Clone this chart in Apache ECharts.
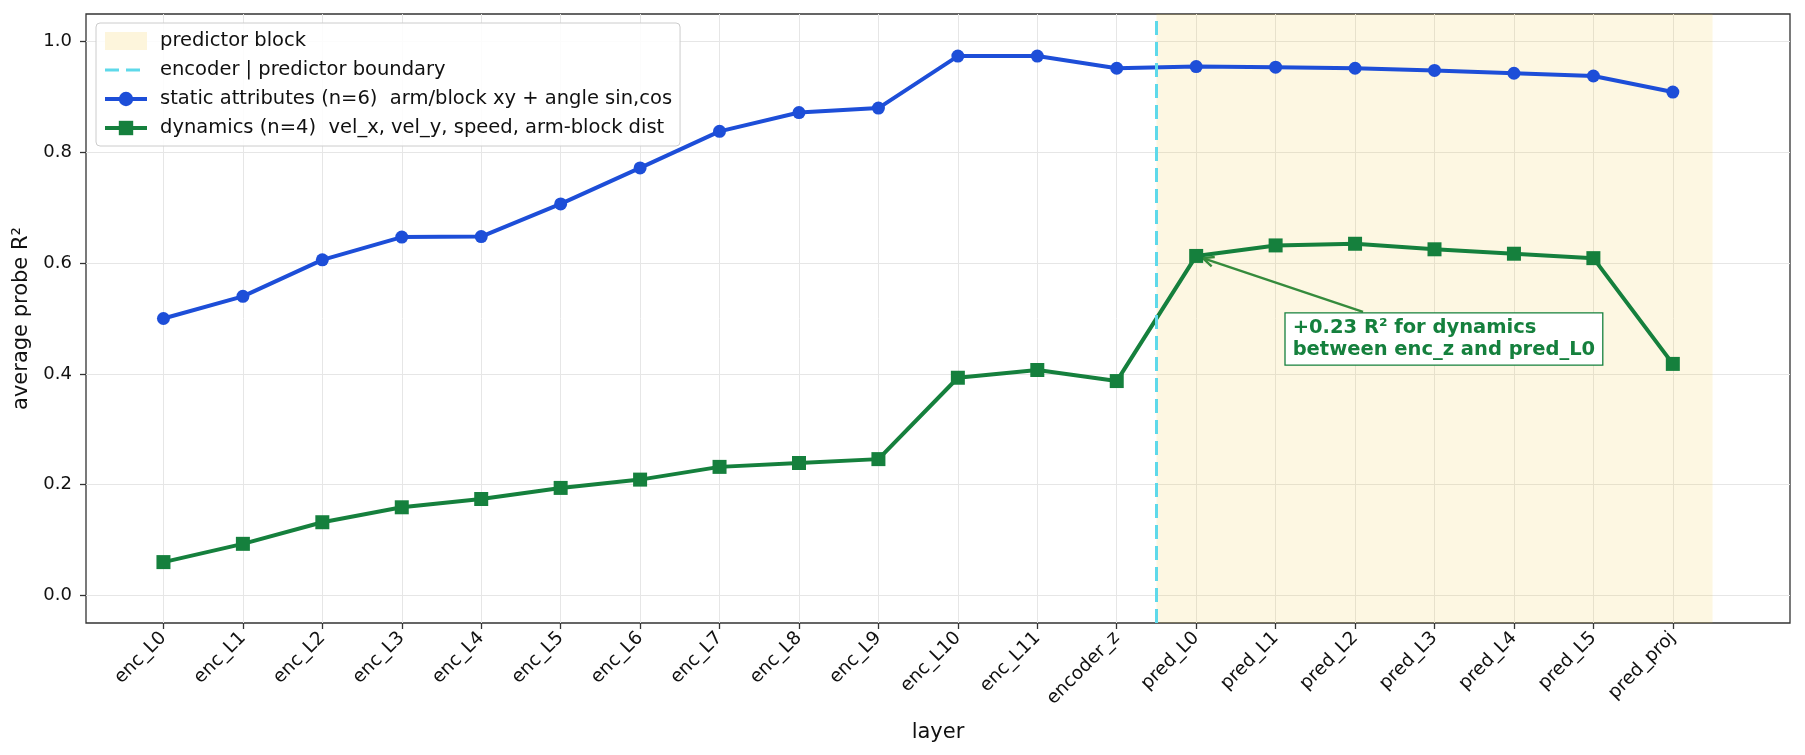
<!DOCTYPE html>
<html lang="en">
<head>
  <meta http-equiv="Content-Type" content="text/html; charset=UTF-8">
  <title>probe R2 by layer</title>
  <style>
    html, body { margin: 0; padding: 0; background: #fff; }
    #myChart { width: 1805px; height: 755px; }
  </style>
</head>
<body>
  <div id="myChart"></div>
  <script src="https://cdn.jsdelivr.net/npm/echarts@6/dist/echarts.min.js"></script>
  <script>
    const layers = ['enc_L0', 'enc_L1', 'enc_L2', 'enc_L3', 'enc_L4', 'enc_L5', 'enc_L6', 'enc_L7',
      'enc_L8', 'enc_L9', 'enc_L10', 'enc_L11', 'encoder_z',
      'pred_L0', 'pred_L1', 'pred_L2', 'pred_L3', 'pred_L4', 'pred_L5', 'pred_proj'];
    const staticR2 = [0.500, 0.540, 0.606, 0.647, 0.648, 0.707, 0.772, 0.838, 0.872, 0.880,
      0.974, 0.974, 0.952, 0.955, 0.954, 0.952, 0.948, 0.943, 0.938, 0.909];
    const dynamicsR2 = [0.060, 0.093, 0.132, 0.159, 0.174, 0.194, 0.209, 0.232, 0.239, 0.246,
      0.393, 0.407, 0.387, 0.613, 0.632, 0.635, 0.625, 0.617, 0.609, 0.418];
    const yTicks = [0, 0.2, 0.4, 0.6, 0.8, 1.0];
    const boundaryX = 12.5;
    const predEndX = 19.5;
    const noteText = '+0.23 R² for dynamics\nbetween enc_z and pred_L0';
    const noteAt = [14.12, 0.463];
    const noteFrom = [15.1, 0.512];
    const noteTo = 13;

    const names = {
      block: 'predictor block',
      boundary: 'encoder | predictor boundary',
      stat: 'static attributes (n=6)  arm/block xy + angle sin,cos',
      dyn: 'dynamics (n=4)  vel_x, vel_y, speed, arm-block dist'
    };
    const blue = '#1d4ed8';
    const green = '#15803d';
    const cyan = '#5ed9ea';
    const spanColor = 'rgba(240,200,60,0.15)';
    const dash = [14, 7];
    const font = 'DejaVu Sans';
    const idx = layers.map((_, i) => i);

    const myChart = echarts.init(document.getElementById('myChart'));
    const option = {
      animation: false,
      backgroundColor: '#fff',
      textStyle: { fontFamily: font, color: '#111' },
      grid: {
        left: 86, right: 15, top: 14, bottom: 132,
        show: true, borderColor: '#333', borderWidth: 1.3, backgroundColor: 'transparent'
      },
      legend: {
        orient: 'vertical',
        left: 96, top: 23,
        padding: [8, 8, 8, 7],
        itemWidth: 42, itemHeight: 18, itemGap: 9,
        backgroundColor: 'rgba(255,255,255,0.85)',
        borderColor: '#cccccc', borderWidth: 1, borderRadius: 4,
        selectedMode: false,
        textStyle: { fontFamily: font, fontSize: 19.5, color: '#111', padding: [0, 0, 0, 8] },
        data: [
          { name: names.block, icon: 'rect' },
          {
            name: names.boundary,
            lineStyle: { width: 3, type: dash },
            itemStyle: { opacity: 0, color: 'rgba(0,0,0,0)', borderWidth: 0 }
          },
          { name: names.stat, lineStyle: { width: 4 } },
          { name: names.dyn, lineStyle: { width: 4 } }
        ]
      },
      xAxis: {
        type: 'value',
        min: -0.975, max: 20.475,
        name: 'layer', nameLocation: 'middle', nameGap: 99,
        nameTextStyle: { fontFamily: font, fontSize: 21, color: '#111' },
        axisLine: { show: false, onZero: false },
        axisTick: { show: true, length: 6, customValues: idx, lineStyle: { color: '#333', width: 1.3 } },
        axisLabel: {
          customValues: idx, rotate: 45, margin: 12,
          fontFamily: font, fontSize: 18.5, color: '#111',
          formatter: v => layers[Math.round(v)]
        },
        splitLine: { show: true, lineStyle: { color: '#e6e6e6', width: 1 } }
      },
      yAxis: {
        type: 'value',
        min: -0.05, max: 1.05,
        name: 'average probe R²', nameLocation: 'middle', nameGap: 47,
        nameTextStyle: { fontFamily: font, fontSize: 21, color: '#111' },
        axisLine: { show: false, onZero: false },
        axisTick: { show: true, length: 6, customValues: yTicks, lineStyle: { color: '#333', width: 1.3 } },
        axisLabel: {
          customValues: yTicks, margin: 14,
          fontFamily: font, fontSize: 18, color: '#111',
          formatter: v => v.toFixed(1)
        },
        splitLine: { show: true, lineStyle: { color: '#e6e6e6', width: 1 } }
      },
      series: [{
        name: names.block,
        type: 'line',
        data: [],
        color: '#fdf5dc',
        markArea: {
          silent: true,
          itemStyle: { color: spanColor },
          data: [[{ xAxis: boundaryX }, { xAxis: predEndX }]]
        }
      }, {
        name: names.boundary,
        type: 'line',
        data: [],
        symbol: 'none',
        color: cyan,
        lineStyle: { color: cyan, width: 3, type: dash },
        markLine: {
          silent: true,
          symbol: ['none', 'none'],
          label: { show: false },
          lineStyle: { color: cyan, width: 3, type: dash },
          data: [{ xAxis: boundaryX }]
        }
      }, {
        name: names.stat,
        type: 'line',
        data: idx.map(i => [i, staticR2[i]]),
        color: blue,
        symbol: 'circle',
        symbolSize: 13,
        lineStyle: { width: 4 },
        z: 3
      }, {
        name: names.dyn,
        type: 'line',
        data: idx.map(i => [i, dynamicsR2[i]]),
        color: green,
        symbol: 'rect',
        symbolSize: 14,
        lineStyle: { width: 4 },
        z: 3
      }, {
        // annotation text box
        name: 'note',
        type: 'line',
        data: [],
        color: green,
        z: 10,
        markPoint: {
          silent: true,
          z: 11,
          data: [{
            coord: noteAt,
            symbol: 'circle',
            symbolSize: 1,
            itemStyle: { color: 'transparent' },
            label: {
              show: true,
              position: 'right',
              distance: 0,
              formatter: noteText,
              fontFamily: font, fontSize: 19.5, fontWeight: 'bold', color: green,
              lineHeight: 22,
              backgroundColor: '#fff',
              borderColor: green, borderWidth: 1.3,
              padding: [4, 7, 3, 7]
            }
          }]
        }
      }]
    };
    myChart.setOption(option);

    // arrow from the note box to the pred_L0 dynamics point
    const a = myChart.convertToPixel({ gridIndex: 0 }, noteFrom);
    const b = myChart.convertToPixel({ gridIndex: 0 }, [noteTo, dynamicsR2[noteTo]]);
    const ang = Math.atan2(a[1] - b[1], a[0] - b[0]);
    const headLen = 12, headAng = 0.42, shrink = 7;
    const tip = [b[0] + shrink * Math.cos(ang), b[1] + shrink * Math.sin(ang)];
    const h1 = [tip[0] + headLen * Math.cos(ang + headAng), tip[1] + headLen * Math.sin(ang + headAng)];
    const h2 = [tip[0] + headLen * Math.cos(ang - headAng), tip[1] + headLen * Math.sin(ang - headAng)];
    myChart.setOption({
      graphic: [{
        type: 'group',
        z: 100,
        silent: true,
        children: [{
          type: 'line',
          shape: { x1: a[0], y1: a[1], x2: tip[0], y2: tip[1] },
          style: { stroke: green, lineWidth: 2.4 }
        }, {
          type: 'polyline',
          shape: { points: [h1, tip, h2] },
          style: { stroke: green, lineWidth: 2.4, fill: null }
        }]
      }]
    });
  </script>
</body>
</html>
